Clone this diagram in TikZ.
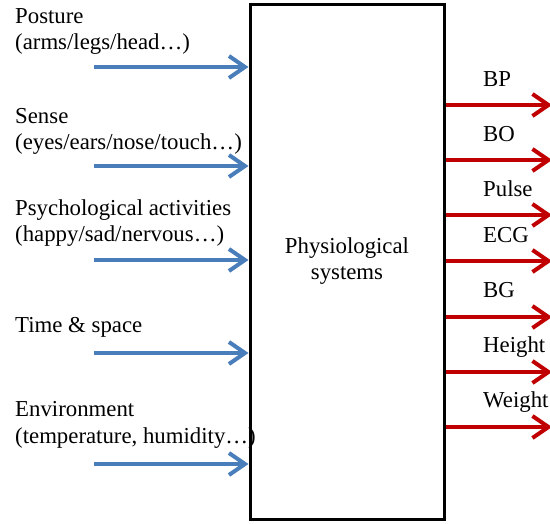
\documentclass[tikz,border=0pt]{standalone}
\usepackage{fontspec}
\setmainfont{Liberation Serif}
\usetikzlibrary{arrows.meta,positioning}
\definecolor{inblue}{RGB}{74,126,187}
\definecolor{outred}{RGB}{192,0,0}
\tikzset{
  txt/.style={font=\fontsize{22.8}{26.8}\selectfont,inner sep=0pt},
  sysbox/.style={draw=black,line width=3pt,minimum width=194pt,
    minimum height=514.5pt,inner sep=0pt},
  syslbl/.style={txt,align=center,anchor=base},
  inlbl/.style={txt,anchor=base west,align=left},
  outlbl/.style={txt,anchor=base west},
  inflow/.style={-{Straight Barb[length=16pt,width=22pt]},line width=4pt,inblue},
  outflow/.style={-{Straight Barb[length=16pt,width=22pt]},line width=4pt,outred},
}
\begin{document}
\begin{tikzpicture}[x=1pt,y=-1pt]
  \useasboundingbox (0,0) rectangle (550,524);
  \node[sysbox] (sys) at (347,261.75) {};
  \node[syslbl] (systxt) at (347,280) {Physiological\\systems};
  % inputs (base = last line)
  \node[inlbl] (posture) at (15,50) {Posture\\(arms/legs/head…)};
  \node[inlbl] (sense) at (15,150) {Sense\\(eyes/ears/nose/touch…)};
  \node[inlbl] (psych) at (15,242) {Psychological activities\\(happy/sad/nervous…)};
  \node[inlbl] (timesp) at (15,333) {Time \& space};
  \node[inlbl] (env) at (15,443) {Environment\\(temperature, humidity…)};
  \coordinate (postin) at (94,67);
  \coordinate (sensein) at (94,166);
  \coordinate (psychin) at (94,260);
  \coordinate (timein) at (94,353);
  \coordinate (envin) at (94,464);
  \draw[inflow] (postin) -- (postin -| sys.west);
  \draw[inflow] (sensein) -- (sensein -| sys.west);
  \draw[inflow] (psychin) -- (psychin -| sys.west);
  \draw[inflow] (timein) -- (timein -| sys.west);
  \draw[inflow] (envin) -- (envin -| sys.west);
  % outputs
  \node[outlbl] (bp) at (483,87) {BP};
  \node[outlbl] (bo) at (483,142) {BO};
  \node[outlbl] (pulse) at (483,197) {Pulse};
  \node[outlbl] (ecg) at (483,243) {ECG};
  \node[outlbl] (bg) at (483,298) {BG};
  \node[outlbl] (height) at (483,353) {Height};
  \node[outlbl] (weight) at (483,408) {Weight};
  \coordinate (bpout) at (552,105);
  \coordinate (boout) at (552,160);
  \coordinate (pulseout) at (552,215);
  \coordinate (ecgout) at (552,261);
  \coordinate (bgout) at (552,317);
  \coordinate (heightout) at (552,372);
  \coordinate (weightout) at (552,427);
  \draw[outflow] (bpout -| sys.east) -- (bpout);
  \draw[outflow] (boout -| sys.east) -- (boout);
  \draw[outflow] (pulseout -| sys.east) -- (pulseout);
  \draw[outflow] (ecgout -| sys.east) -- (ecgout);
  \draw[outflow] (bgout -| sys.east) -- (bgout);
  \draw[outflow] (heightout -| sys.east) -- (heightout);
  \draw[outflow] (weightout -| sys.east) -- (weightout);
\end{tikzpicture}
\end{document}
